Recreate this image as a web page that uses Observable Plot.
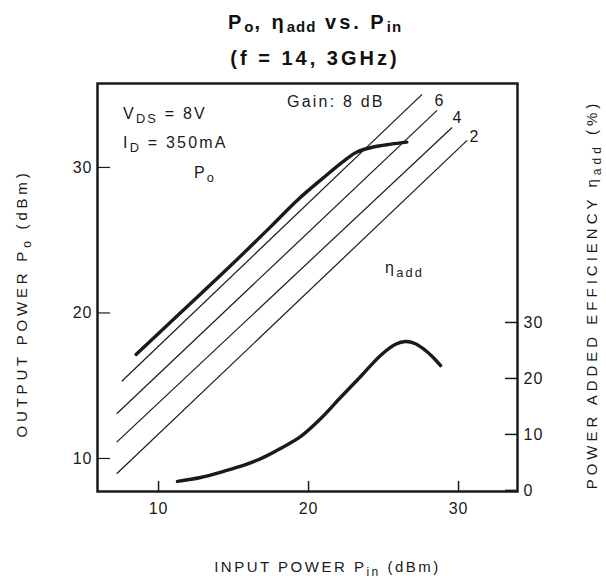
<!DOCTYPE html>
<html>
<head>
<meta charset="utf-8">
<script src="https://cdn.jsdelivr.net/npm/d3@7"></script>
<script src="https://cdn.jsdelivr.net/npm/@observablehq/plot@0.6"></script>
<style>
  html, body { margin: 0; padding: 0; background: #fff; }
  body { width: 606px; height: 580px; overflow: hidden; position: relative; font-family: "Liberation Sans", Arial, sans-serif; }
  #title { position: absolute; left: 0; top: 0; width: 606px; height: 80px; box-sizing: border-box; padding-top: 4px; padding-left: 24px;
           text-align: center; font-weight: bold; font-size: 20px; line-height: 36px; letter-spacing: 3px; color: #111; }
  #title sub { font-size: 15px; vertical-align: -3px; line-height: 0; letter-spacing: 1px; }
  #chart { position: absolute; left: 0; top: 80px; }
</style>
</head>
<body>
<div id="title">
  <div>P<sub>o</sub>, η<sub>add</sub> vs. P<sub>in</sub></div>
  <div>(f = 14, 3GHz)</div>
</div>
<div id="chart"></div>
<script>
// ---- data ----
const pinTicks = [10, 20, 30];          // input power (dBm)
const poTicks = [10, 20, 30];           // output power (dBm)
const etaTicks = [0, 10, 20, 30];       // power added efficiency (%)

// constant-gain reference lines (dB) and their drawn extent
const gainValues = [8, 6, 4, 2];
const gainPinStart = [7.55, 7.21, 7.21, 7.21];
const gainPoStart = [15.31, 13.07, 11.12, 8.95];
const gainPinEnd = [27.57, 28.57, 29.57, 30.57];
const gainPoEnd = [35.02, 33.92, 32.75, 31.86];

// Po vs Pin
const poPin = [8.5, 11.5, 14.5, 17.5, 19.2, 21.0, 22.3, 23.2, 24.3, 25.5, 26.55];
const poOut = [17.15, 20.05, 22.95, 25.95, 27.7, 29.3, 30.4, 31.05, 31.4, 31.6, 31.74];

// eta_add vs Pin
const etaPin = [11.26, 12.8, 14.33, 15.8, 17.0, 18.13, 19.46, 20.8, 22.13, 23.46, 24.8, 25.8, 26.46, 27.13, 27.8, 28.33, 28.8];
const etaVal = [1.6, 2.3, 3.4, 4.6, 5.9, 7.5, 9.6, 12.8, 16.6, 20.3, 24.1, 26.1, 26.6, 26.2, 25.0, 23.7, 22.3];

// axis extents
const pinDomain = [5.93, 33.93];
const poDomain = [7.73, 35.77];
const etaDomain = [-0.2, 72.7];

// annotation texts with their anchor in (Pin, Po) units
const notesLeft = [
  {text: "V_{DS} = 8V", pin: 7.63, po: 33.71},
  {text: "I_{D} = 350mA", pin: 7.63, po: 31.72},
  {text: "Gain: 8 dB", pin: 18.57, po: 34.54}
];
const notesCenter = [
  {text: "P_{o}", pin: 13.1, po: 29.66},
  {text: "6", pin: 28.77, po: 34.6},
  {text: "4", pin: 29.97, po: 33.44},
  {text: "2", pin: 31.1, po: 32.13},
  {text: "η_{add}", pin: 26.4, po: 23.13}
];

// ---- build ----
const etaToY = d3.scaleLinear(etaDomain, poDomain);
const gainRows = gainValues.map((g, i) => ({g, x1: gainPinStart[i], y1: gainPoStart[i], x2: gainPinEnd[i], y2: gainPoEnd[i]}));
const poRows = poPin.map((p, i) => ({pin: p, po: poOut[i]}));
const etaRows = etaPin.map((p, i) => ({pin: p, eta: etaVal[i]}));
const ink = "#1a1a1a";
const font = "Liberation Sans, Arial, sans-serif";

const chart = Plot.plot({
  width: 606,
  height: 500,
  marginLeft: 97,
  marginRight: 89,
  marginTop: 3,
  marginBottom: 89,
  style: {fontFamily: font, color: ink, background: "#fff", overflow: "visible"},
  x: {domain: pinDomain},
  y: {domain: poDomain},
  marks: [
    // ticks (inward)
    Plot.axisX(pinTicks, {anchor: "bottom", tickSize: 10, insetBottom: 10, fill: "none", label: null, stroke: ink, strokeWidth: 1.5}),
    Plot.axisY(poTicks, {anchor: "left", tickSize: 13, insetLeft: 13, fill: "none", label: null, stroke: ink, strokeWidth: 1.2}),
    Plot.axisY(etaTicks.map(etaToY), {anchor: "right", tickSize: 13, insetRight: 13, fill: "none", label: null, stroke: ink, strokeWidth: 1.5}),
    // tick labels
    Plot.axisX(pinTicks, {anchor: "bottom", tickSize: 0, tickPadding: 11, label: null, fontSize: 16, fill: ink}),
    Plot.axisY(poTicks, {anchor: "left", tickSize: 0, tickPadding: 5, label: null, fontSize: 16, fill: ink}),
    Plot.axisY(etaTicks.map(etaToY), {anchor: "right", tickSize: 0, tickPadding: 6, label: null, fontSize: 16, fill: ink,
      tickFormat: d => String(Math.round(etaToY.invert(d)))}),
    // gain lines
    Plot.link(gainRows, {x1: "x1", y1: "y1", x2: "x2", y2: "y2", stroke: ink, strokeWidth: 1.2}),
    // curves
    Plot.line(poRows, {x: "pin", y: "po", stroke: ink, strokeWidth: 3.4, curve: "catmull-rom", strokeLinecap: "round"}),
    Plot.line(etaRows, {x: "pin", y: d => etaToY(d.eta), stroke: ink, strokeWidth: 3.4, curve: "catmull-rom", strokeLinecap: "round"}),
    // annotations
    Plot.text(notesLeft, {x: "pin", y: "po", text: "text", textAnchor: "start", fontSize: 16, fill: ink, className: "note"}),
    Plot.text(notesCenter, {x: "pin", y: "po", text: "text", textAnchor: "middle", fontSize: 16, fill: ink, className: "note"}),
    // axis titles
    Plot.text(["OUTPUT POWER P_{o} (dBm)"], {frameAnchor: "left", textAnchor: "middle", dx: -75, dy: 16, rotate: -90, fontSize: 15, fill: ink, text: d => d, className: "ttl-left"}),
    Plot.text(["POWER ADDED EFFICIENCY η_{add} (%)"], {frameAnchor: "right", textAnchor: "middle", dx: 75, dy: 7, rotate: -90, fontSize: 15, fill: ink, text: d => d, className: "ttl-right"}),
    Plot.text(["INPUT POWER P_{in} (dBm)"], {frameAnchor: "bottom", textAnchor: "middle", dx: 20, dy: 80, fontSize: 15, fill: ink, text: d => d, className: "ttl-bottom"}),
    // frame
    Plot.frame({stroke: ink, strokeWidth: 2.5})
  ]
});

// subscripts for "_{...}"
d3.select(chart).selectAll("text").each(function () {
  const t = this.textContent;
  if (!t.includes("_{")) return;
  const parts = t.split(/(_\{[^}]*\})/).filter(p => p);
  this.textContent = "";
  let lowered = false;
  for (const p of parts) {
    const ts = document.createElementNS("http://www.w3.org/2000/svg", "tspan");
    if (p.startsWith("_{")) {
      ts.textContent = p.slice(2, -1);
      ts.setAttribute("font-size", "0.8em");
      ts.setAttribute("dy", "4");
      lowered = true;
    } else {
      ts.textContent = p;
      if (lowered) { ts.setAttribute("dy", "-4"); lowered = false; }
    }
    this.appendChild(ts);
  }
});
// wide, typewriter-like letter spacing of the original
d3.select(chart).selectAll(".note text").attr("letter-spacing", "2.2");
d3.select(chart).selectAll(".ttl-left text").attr("letter-spacing", "3.8");
d3.select(chart).selectAll(".ttl-right text").attr("letter-spacing", "4");
d3.select(chart).selectAll(".ttl-bottom text").attr("letter-spacing", "2.5");
d3.select(chart).selectAll("g[aria-label$='tick label'] text").attr("letter-spacing", "1");

document.getElementById("chart").appendChild(chart);
</script>
</body>
</html>
